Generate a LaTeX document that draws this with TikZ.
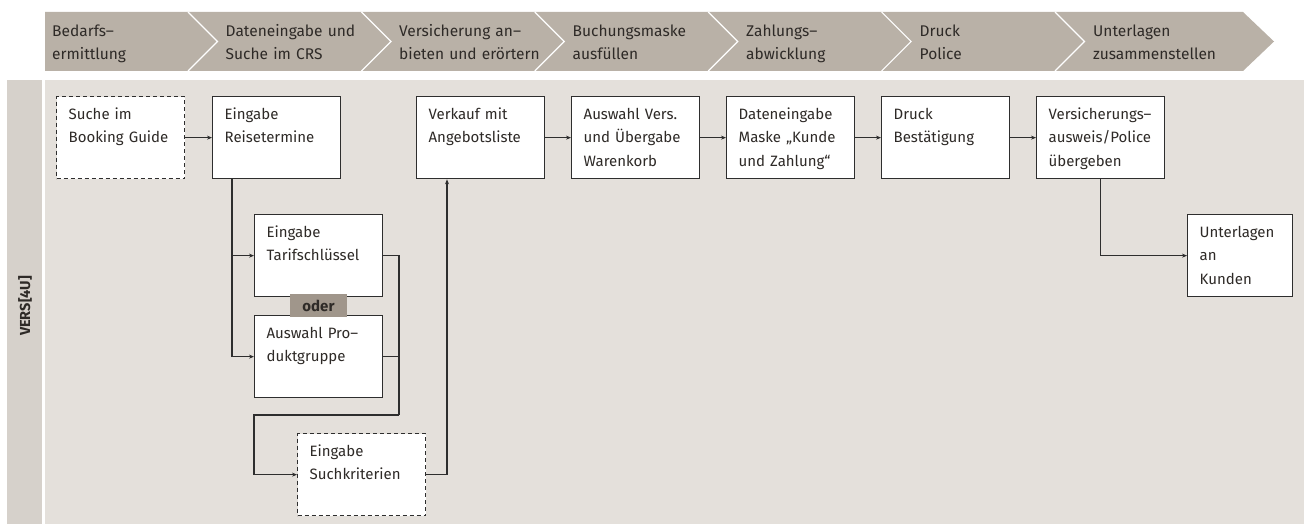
\documentclass[tikz,border=0pt]{standalone}
\usepackage{fontspec}
\setmainfont{Fira Sans}
\usetikzlibrary{arrows.meta}
\definecolor{hdr}{HTML}{B9B1A7}
\definecolor{laneL}{HTML}{D6D1CB}
\definecolor{laneM}{HTML}{E4E0DB}
\definecolor{oderC}{HTML}{A0968B}
\definecolor{txt}{HTML}{2E2A27}
\definecolor{lineC}{HTML}{2E2E2E}
\newcommand{\boxfont}{\fontsize{15}{23.3}\selectfont}
\newcommand{\hdrfont}{\fontsize{15.5}{23}\selectfont}
\begin{document}
\begin{tikzpicture}[x=1pt,y=-1pt,
  box/.style={draw=lineC, line width=1.3pt, fill=white, anchor=north west,
    inner xsep=12pt, inner ysep=0pt, text width=#1, align=left,
    text height=23pt, text depth=59pt, font=\boxfont, text=txt},
  box/.default=104pt,
  dbox/.style={box=#1, dash pattern=on 4pt off 3pt},
  dbox/.default=104pt,
  hdrtext/.style={anchor=base west, inner sep=0pt, text width=165pt, align=left, font=\hdrfont, text=txt},
  conn/.style={draw=lineC, line width=1.1pt},
  arr/.style={conn, -{Stealth[length=5pt,width=4pt]}},
  divider/.style={draw=white, line width=1.2pt}
]
\useasboundingbox (0,0) rectangle (1304,524);
% header band
\fill[hdr] (45,12) -- (1243,12) -- (1274,41.5) -- (1243,71) -- (45,71) -- cycle;
\foreach \x in {188,361.4,534.8,708.2,881.6,1055}{
  \draw[divider] (\x,12) -- (\x+29.5,41.5) -- (\x,71);
}
\node[hdrtext] (h1) at (52,37) {Bedarfs–\\ermittlung};
\node[hdrtext] (h2) at (225.5,37) {Dateneingabe und\\Suche im CRS};
\node[hdrtext] (h3) at (399,37) {Versicherung an–\\bieten und erörtern};
\node[hdrtext] (h4) at (572.5,37) {Buchungsmaske\\ausfüllen};
\node[hdrtext] (h5) at (746,37) {Zahlungs–\\abwicklung};
\node[hdrtext] (h6) at (919.5,37) {Druck\\Police};
\node[hdrtext] (h7) at (1093,37) {Unterlagen\\zusammenstellen};
% lanes
\fill[laneL] (7,80) rectangle (42,524);
\fill[laneM] (45,80) rectangle (1304,524);
\node[rotate=90, font=\fontsize{14.5}{16}\selectfont\bfseries, text=txt] (lane) at (25,306) {VERS[4U]};
% boxes
\node[dbox] (suche) at (56,96) {Suche im\\Booking Guide};
\node[box] (reise) at (212,96) {Eingabe\\Reisetermine};
\node[box] (verkauf) at (416,96) {Verkauf mit\\Angebotsliste};
\node[box] (auswahl) at (571,96) {Auswahl Vers.\\und Übergabe\\Warenkorb};
\node[box] (maske) at (726,96) {Dateneingabe\\Maske „Kunde\\und Zahlung“};
\node[box] (druck) at (881,96) {Druck\\Bestätigung};
\node[box] (ausweis) at (1036,96) {Versicherungs–\\ausweis/Police\\übergeben};
\node[box=81pt] (unterlagen) at (1187,214) {Unterlagen\\an\\Kunden};
\node[box] (tarif) at (254,214) {Eingabe\\Tarifschlüssel};
\node[box] (produkt) at (254,315) {Auswahl Pro–\\duktgruppe};
\node[dbox] (such) at (297,433) {Eingabe\\Suchkriterien};
\node[fill=oderC, minimum width=57pt, minimum height=23pt, inner sep=0pt,
  font=\fontsize{15}{18}\selectfont\bfseries, text=txt] (oder) at (318.5,305.5) {oder};
% connectors
\coordinate (j) at (399,415);
\draw[arr] (suche) -- (reise);
\draw[arr] ([xshift=20pt]reise.south west) |- (tarif.west);
\draw[arr] ([xshift=20pt]reise.south west) |- (produkt.west);
\draw[conn] (tarif.east) -| (j);
\draw[conn] (produkt.east) -| (j);
\draw[arr] (j) -- (j -| tarif.west) |- (such.west);
\draw[arr] (such.east) -| ([xshift=31pt]verkauf.south west);
\draw[arr] (verkauf) -- (auswahl);
\draw[arr] (auswahl) -- (maske);
\draw[arr] (maske) -- (druck);
\draw[arr] (druck) -- (ausweis);
\draw[arr] (ausweis.south) |- (unterlagen.west);
\end{tikzpicture}
\end{document}
